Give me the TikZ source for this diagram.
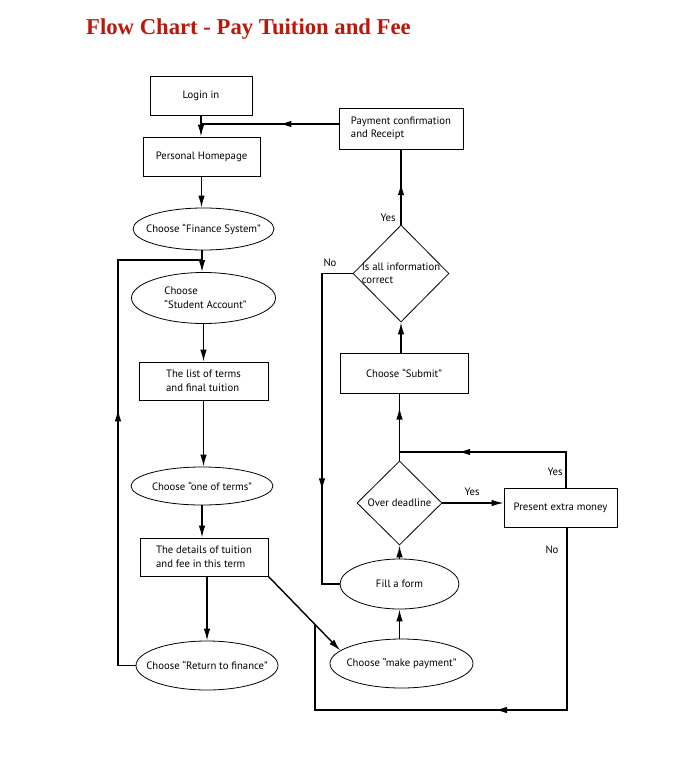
\documentclass[tikz,border=0pt]{standalone}
\usepackage{fontspec}
\setmainfont{PT Sans}
\newfontfamily\titlefont{Liberation Serif}
\usetikzlibrary{shapes.geometric,arrows.meta,decorations.markings}
\definecolor{titlered}{RGB}{186,24,12}
\begin{document}
\begin{tikzpicture}[x=1pt,y=-1pt,every node/.style={font=\fontsize{10.7}{13.5}\selectfont}]
    \tikzstyle{box}=[draw,line width=0.8pt,align=left]
    \tikzstyle{flow}=[line width=1.4pt,-{Latex[length=12pt,width=6.5pt]}]
    \tikzstyle{plain}=[line width=1.4pt]
    \tikzset{oval/.style={draw,ellipse,line width=0.8pt,label={[align=left]center:#1}},
      dia/.style={draw,diamond,line width=0.8pt,label={[align=left]center:#1}},
      midarrow/.style={plain,postaction={decorate},
        decoration={markings,mark=at position #1 with {\arrow{Latex[length=12pt,width=6.5pt]}}}}}
    \useasboundingbox (0,0) rectangle (700,768);

    \node[anchor=base west,inner sep=0pt,text=titlered,font=\titlefont\bfseries\fontsize{22.7}{27}\selectfont] (title) at (86,35) {Flow Chart - Pay Tuition and Fee};

    % left column
    \node[box,minimum width=102pt,minimum height=39pt] (login) at (201,95.5) {Login in};
    \node[box,minimum width=117pt,minimum height=39pt] (home) at (201.5,156.5) {Personal Homepage};
    \node[oval={Choose “Finance System”},minimum width=141pt,minimum height=42pt] (finsys) at (203.5,229) {};
    \node[draw,ellipse,line width=0.8pt,minimum width=144pt,minimum height=51pt,
      label={[align=left,xshift=2pt]center:Choose\\“Student Account”}] (student) at (203.5,298) {};
    \node[box,minimum width=129pt,minimum height=38pt] (terms) at (203.5,381) {The list of terms\\and final tuition};
    \node[oval={Choose “one of terms”},minimum width=142pt,minimum height=38pt] (oneterm) at (202,486) {};
    \node[box,minimum width=128pt,minimum height=38pt] (details) at (204,557) {The details of tuition\\and fee in this term};
    \node[oval={Choose “Return to finance”},minimum width=142pt,minimum height=49pt] (return) at (207,665.5) {};

    % right column
    \node[box,minimum width=124pt,minimum height=41pt] (receipt) at (401,128.5) {Payment confirmation\\and Receipt};
    \node[dia={Is all information\\correct},minimum width=96pt,minimum height=97pt] (check) at (401,273.5) {};
    \node[box,minimum width=128pt,minimum height=40pt] (submit) at (404,373) {Choose “Submit”};
    \node[dia={Over deadline},minimum width=85pt,minimum height=84pt] (deadline) at (399.5,503) {};
    \node[box,minimum width=113pt,minimum height=39pt] (extra) at (560.5,507.5) {Present extra money};
    \node[oval={Fill a form},minimum width=119pt,minimum height=50pt] (fill) at (399.5,584) {};
    \node[oval={Choose “make payment”},minimum width=143pt,minimum height=49pt] (payment) at (401.5,663.5) {};

    % answers
    \node (yes1) at (388,218) {Yes};
    \node (no1) at (330,263) {No};
    \node (yes2) at (472,492) {Yes};
    \node (yes3) at (555,472) {Yes};
    \node (no2) at (552,550) {No};

    % bends and joins
    \coordinate (j1) at (201,124);
    \coordinate (j2) at (202,260);
    \coordinate (j3) at (399.5,452);
    \coordinate (merge) at (315,625);
    \coordinate (nocol) at (567,710);
    \coordinate (yescol) at (566,452);
    \coordinate (nocheck) at (322,273.5);
    \coordinate (back) at (118,665.5);

    \draw[flow] (login.south) -- (login.south |- home.north);
    \draw[midarrow=0.43] (receipt.west |- j1) -- (j1);
    \draw[flow] (home.south) -- (home.south |- finsys.north);
    \draw[flow] (j2 |- finsys.south) -- (j2 |- student.north);
    \draw[flow] (student.south) -- (student.south |- terms.north);
    \draw[flow] (terms.south) -- (terms.south |- oneterm.north);
    \draw[flow] (oneterm.south) -- (oneterm.south |- details.north);
    \draw[flow] (return.north |- details.south) -- (return.north);
    \draw[midarrow=0.54] (return.west) -- (back) |- (j2);
    \draw[flow] (details.south east) -- (payment.168);

    \draw[flow] (fill.south |- payment.north) -- (fill.south);
    \draw[flow] (fill.north) -- (deadline.south);
    \draw[flow] (deadline.east) -- (deadline.east -| extra.west);
    \draw[midarrow=0.71] (yescol |- extra.north) -- (yescol) -- (j3);
    \draw[midarrow=0.49] (nocol |- extra.south) -- (nocol) -- (merge |- nocol) -- (merge);
    \draw[midarrow=0.79] (deadline.north) -- (deadline.north |- submit.south);
    \draw[flow] (check.south |- submit.north) -- (check.south);
    \draw[midarrow=0.55] (check.north) -- (check.north |- receipt.south);
    \draw[midarrow=0.69] (check.west) -- (nocheck) |- (fill.west);
\end{tikzpicture}
\end{document}
